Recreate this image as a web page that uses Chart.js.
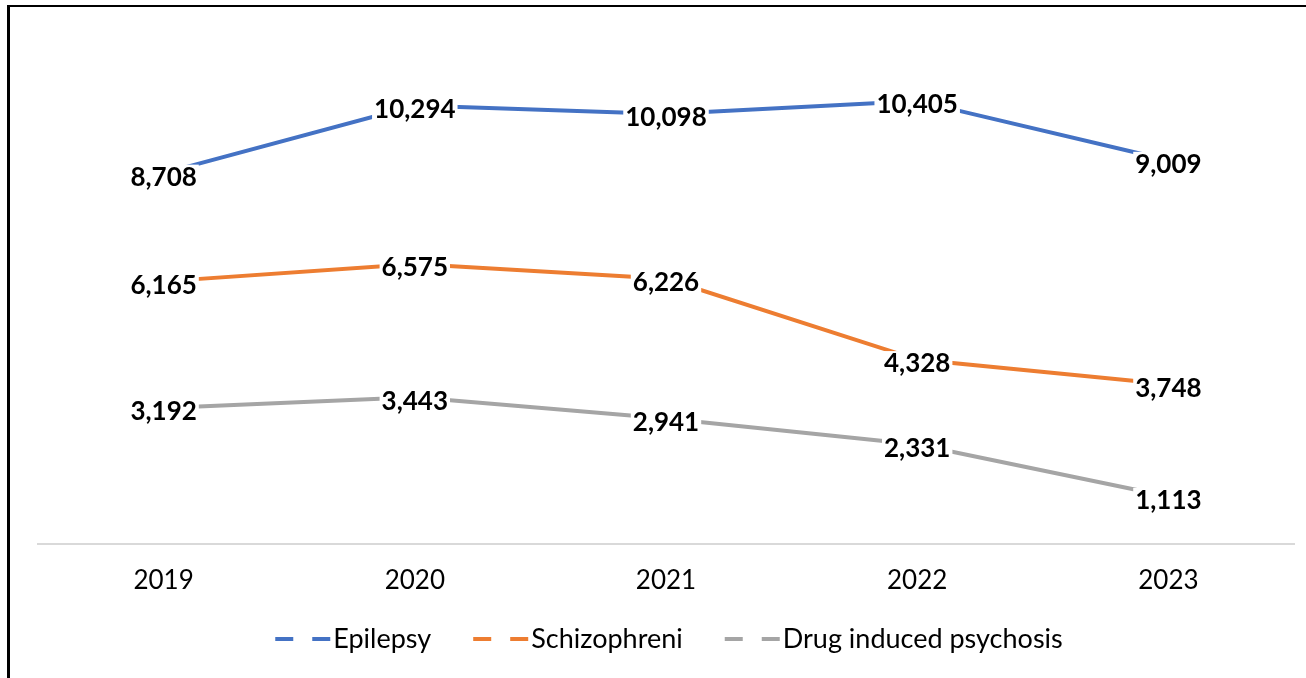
<!DOCTYPE html>
<html><head><meta charset="utf-8">
<script src="https://cdn.jsdelivr.net/npm/chart.js@4.4.0/dist/chart.umd.min.js"></script>
<style>
html,body{margin:0;padding:0;background:#fff;overflow:hidden}
#wrap{position:relative;width:1306px;height:678px}
#frame{position:absolute;left:7px;top:5px;width:1320px;height:700px;border-top:2px solid #000;border-left:3px solid #000;pointer-events:none}
canvas{display:block}
</style></head><body>
<div id="wrap"><canvas id="c" width="1306" height="678"></canvas><div id="frame"></div></div>
<script>
// ---- data ----
const categories = ['2019', '2020', '2021', '2022', '2023'];
const epilepsy = [8708, 10294, 10098, 10405, 9009];
const schizophreni = [6165, 6575, 6226, 4328, 3748];
const drugInduced = [3192, 3443, 2941, 2331, 1113];
const seriesNames = ['Epilepsy', 'Schizophreni', 'Drug induced psychosis'];
const seriesColors = ['#4472C4', '#ED7D31', '#A5A5A5'];
const yMin = 0, yMax = 12000;

const FONT = 'Lato, "Open Sans", sans-serif';

const labelPlugin = {
  id: 'valueLabels',
  afterDatasetsDraw(chart) {
    const ctx = chart.ctx;
    ctx.save();
    ctx.font = 'bold 26px ' + FONT;
    const capH = ctx.measureText('0').actualBoundingBoxAscent;
    chart.data.datasets.forEach((ds, i) => {
      const meta = chart.getDatasetMeta(i);
      meta.data.forEach((pt, j) => {
        const txt = Number(ds.data[j]).toLocaleString('en-US');
        const m = ctx.measureText(txt);
        const w = m.width;
        const cy = pt.y + 3;
        const base = cy + capH / 2;
        ctx.fillStyle = '#ffffff';
        ctx.fillRect(pt.x - w / 2 - 2, base - capH - 2, w + 4, capH + 6);
        ctx.fillStyle = '#000000';
        ctx.textAlign = 'center';
        ctx.textBaseline = 'alphabetic';
        ctx.fillText(txt, pt.x, base);
      });
    });
    ctx.restore();
  }
};

const legendPlugin = {
  id: 'customLegend',
  afterDraw(chart) {
    const ctx = chart.ctx;
    ctx.save();
    ctx.font = '27px ' + FONT;
    const markerW = 55, gapMT = 3, gapItems = 42;
    const items = chart.data.datasets.map(ds => ({ text: ds.label, color: ds.borderColor, tw: ctx.measureText(ds.label).width }));
    let total = 0;
    items.forEach((it, k) => { total += markerW + gapMT + it.tw + (k < items.length - 1 ? gapItems : 0); });
    const ca = chart.chartArea;
    let x = (ca.left + ca.right) / 2 + 3 - total / 2;
    const y = 638;
    const capH = ctx.measureText('E').actualBoundingBoxAscent;
    items.forEach(it => {
      ctx.beginPath();
      ctx.setLineDash([18, 19]);
      ctx.lineWidth = 4;
      ctx.lineCap = 'butt';
      ctx.strokeStyle = it.color;
      ctx.moveTo(x, y + 1);
      ctx.lineTo(x + markerW, y + 1);
      ctx.stroke();
      ctx.setLineDash([]);
      ctx.fillStyle = '#000000';
      ctx.textAlign = 'left';
      ctx.textBaseline = 'alphabetic';
      ctx.fillText(it.text, x + markerW + gapMT, y + capH / 2);
      x += markerW + gapMT + it.tw + gapItems;
    });
    ctx.restore();
  }
};

const datasets = [epilepsy, schizophreni, drugInduced].map((vals, i) => ({
  label: seriesNames[i],
  data: vals,
  borderColor: seriesColors[i],
  backgroundColor: seriesColors[i],
  borderWidth: 4,
  pointRadius: 0,
  pointHoverRadius: 0,
  tension: 0,
  fill: false
}));

new Chart(document.getElementById('c'), {
  type: 'line',
  data: { labels: categories, datasets },
  options: {
    responsive: false,
    animation: false,
    devicePixelRatio: 1,
    layout: { padding: { left: 38, right: 12, top: 33, bottom: 61 } },
    plugins: { legend: { display: false }, tooltip: { enabled: false } },
    scales: {
      x: {
        offset: true,
        grid: { display: false, drawTicks: false },
        border: { display: true, color: '#D9D9D9', width: 2 },
        ticks: { color: '#000000', font: { family: FONT, size: 26 }, padding: 21, maxRotation: 0 }
      },
      y: {
        display: false,
        min: yMin,
        max: yMax
      }
    }
  },
  plugins: [labelPlugin, legendPlugin]
});
</script>
</body></html>
